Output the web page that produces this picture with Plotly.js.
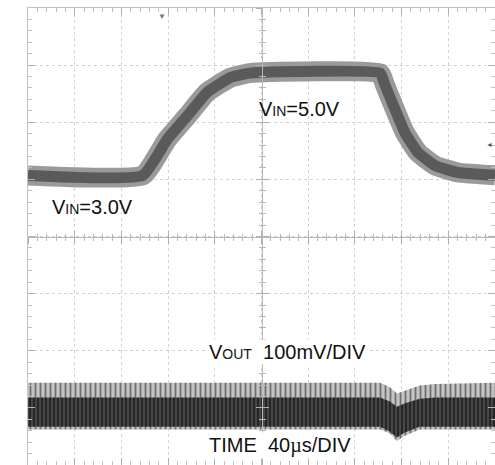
<!DOCTYPE html>
<html>
<head>
<meta charset="utf-8">
<script src="https://cdn.plot.ly/plotly-3.0.1.min.js"></script>
<style>html,body{margin:0;padding:0;background:#fff;}</style>
</head>
<body>
<div id="chart" style="width:495px;height:465px;"></div>
<script>
// Time axis in divisions (40 µs/DIV), vertical axis in screen divisions
var vinT   = [0, 2.46, 2.98, 3.40, 3.83, 4.33, 4.75, 7.54, 7.64, 7.86, 8.07, 8.35, 8.72, 9.21, 10];
var vinY   = [1.07, 1.07, 1.70, 2.10, 2.52, 2.78, 2.86, 2.86, 2.66, 2.22, 1.82, 1.47, 1.24, 1.12, 1.07];

var voutT        = [0, 7.54, 7.75, 7.90, 8.07, 8.39, 8.72, 10];
var voutTop      = [-2.56, -2.56, -2.64, -2.75, -2.70, -2.61, -2.58, -2.56];
var voutBot      = [-3.38, -3.38, -3.45, -3.58, -3.49, -3.38, -3.38, -3.38];
var voutCoreTop  = [-2.82, -2.82, -2.89, -2.98, -2.92, -2.84, -2.82, -2.82];
var voutCoreBot  = [-3.33, -3.33, -3.42, -3.52, -3.43, -3.33, -3.33, -3.33];

var labels = {
  vinLow:  'V<span style="font-size:14px">IN</span>=3.0V',
  vinHigh: 'V<span style="font-size:14px">IN</span>=5.0V',
  vout:    'V<span style="font-size:14px">OUT</span>  100mV/DIV',
  time:    'TIME  40<span style="font-family:\'Liberation Serif\',serif">µ</span>s/DIV'
};

var traces = [
  {x: vinT, y: vinY, mode: 'lines', line: {color: '#9a9a9a', width: 20, shape: 'spline', smoothing: 0.4}, hoverinfo: 'skip'},
  {x: vinT, y: vinY, mode: 'lines', line: {color: '#5a5a5a', width: 11, shape: 'spline', smoothing: 0.4}, hoverinfo: 'skip'},
  {x: voutT, y: voutTop, mode: 'lines', line: {color: 'rgba(0,0,0,0)', width: 0}, hoverinfo: 'skip'},
  {x: voutT, y: voutBot, mode: 'lines', fill: 'tonexty', fillcolor: '#b0b0b0',
   fillpattern: {shape: '|', fgcolor: '#6e6e6e', bgcolor: '#c4c4c4', size: 5, solidity: 0.35},
   line: {color: 'rgba(0,0,0,0)', width: 0}, hoverinfo: 'skip'},
  {x: voutT, y: voutCoreTop, mode: 'lines', line: {color: 'rgba(0,0,0,0)', width: 0}, hoverinfo: 'skip'},
  {x: voutT, y: voutCoreBot, mode: 'lines', fill: 'tonexty', fillcolor: '#353535',
   fillpattern: {shape: '|', fgcolor: '#262626', bgcolor: '#4a4a4a', size: 4, solidity: 0.55},
   line: {color: 'rgba(0,0,0,0)', width: 0}, hoverinfo: 'skip'},
  {x: [], y: [], xaxis: 'x2', yaxis: 'y2', hoverinfo: 'skip'},
  {x: [], y: [], xaxis: 'x3', yaxis: 'y3', hoverinfo: 'skip'}
];

function border(range) {
  return {
    range: range, dtick: 1, tick0: 0, showgrid: true, gridcolor: '#d2d2d2', griddash: 'dot', gridwidth: 1,
    zeroline: false, showline: true, linecolor: '#c2c2c2', linewidth: 1, mirror: 'allticks',
    ticks: 'inside', ticklen: 7, tickcolor: '#b0b0b0', showticklabels: false, fixedrange: true,
    minor: {dtick: 0.2, tick0: 0, ticks: 'inside', ticklen: 4, tickcolor: '#c0c0c0', showgrid: false}
  };
}
function center(range, ov, dir) {
  return {
    range: range, overlaying: ov, anchor: 'free', position: 0.5, dtick: 1, tick0: 0,
    showgrid: false, zeroline: false, showline: true, linecolor: '#b8b8b8', linewidth: 1,
    ticks: dir, ticklen: 6, tickcolor: '#b0b0b0', showticklabels: false, fixedrange: true,
    minor: {dtick: 0.2, tick0: 0, ticks: dir, ticklen: 3, tickcolor: '#b8b8b8', showgrid: false}
  };
}

var fnt = {family: 'Liberation Sans, Arial, sans-serif', size: 20, color: '#111111'};
var layout = {
  width: 495, height: 465,
  margin: {l: 28, r: 0, t: 8, b: 0},
  paper_bgcolor: '#ffffff', plot_bgcolor: '#ffffff',
  showlegend: false,
  xaxis: border([0, 10]),
  yaxis: border([-4, 4]),
  xaxis2: center([0, 10], 'x', 'outside'),
  yaxis2: center([-4, 4], 'y', 'outside'),
  xaxis3: center([0, 10], 'x', 'inside'),
  yaxis3: center([-4, 4], 'y', 'inside'),
  annotations: [
    {x: 0.47, y: 0.52, xref: 'x', yref: 'y', text: labels.vinLow, showarrow: false, xanchor: 'left', yanchor: 'middle', font: fnt},
    {x: 4.90, y: 2.23, xref: 'x', yref: 'y', text: labels.vinHigh, showarrow: false, xanchor: 'left', yanchor: 'middle', font: fnt},
    {x: 3.83, y: -2.02, xref: 'x', yref: 'y', text: labels.vout, showarrow: false, xanchor: 'left', yanchor: 'middle', font: fnt, bgcolor: '#ffffff'},
    {x: 3.83, y: -3.65, xref: 'x', yref: 'y', text: labels.time, showarrow: false, xanchor: 'left', yanchor: 'middle', font: fnt, bgcolor: '#ffffff'},
    {x: -0.24, y: -3.01, xref: 'x', yref: 'y', text: '1→', showarrow: false, xanchor: 'center', yanchor: 'middle', font: {family: 'Liberation Sans, Arial, sans-serif', size: 9, color: '#ffffff'}, bgcolor: '#222222', borderpad: 2},
    {x: -0.18, y: -2.01, xref: 'x', yref: 'y', text: '1→', showarrow: false, xanchor: 'right', yanchor: 'middle', font: {family: 'Liberation Sans, Arial, sans-serif', size: 10, color: '#888888'}},
    {x: 2.87, y: 4, xref: 'x', yref: 'y', text: '▼', showarrow: false, xanchor: 'center', yanchor: 'top', font: {size: 8, color: '#777777'}},
    {x: 9.89, y: 1.61, xref: 'x', yref: 'y', text: '◄', showarrow: false, xanchor: 'center', yanchor: 'middle', font: {size: 7, color: '#555555'}}
  ]
};

Plotly.newPlot('chart', traces, layout, {displayModeBar: false, staticPlot: true});
</script>
</body>
</html>
